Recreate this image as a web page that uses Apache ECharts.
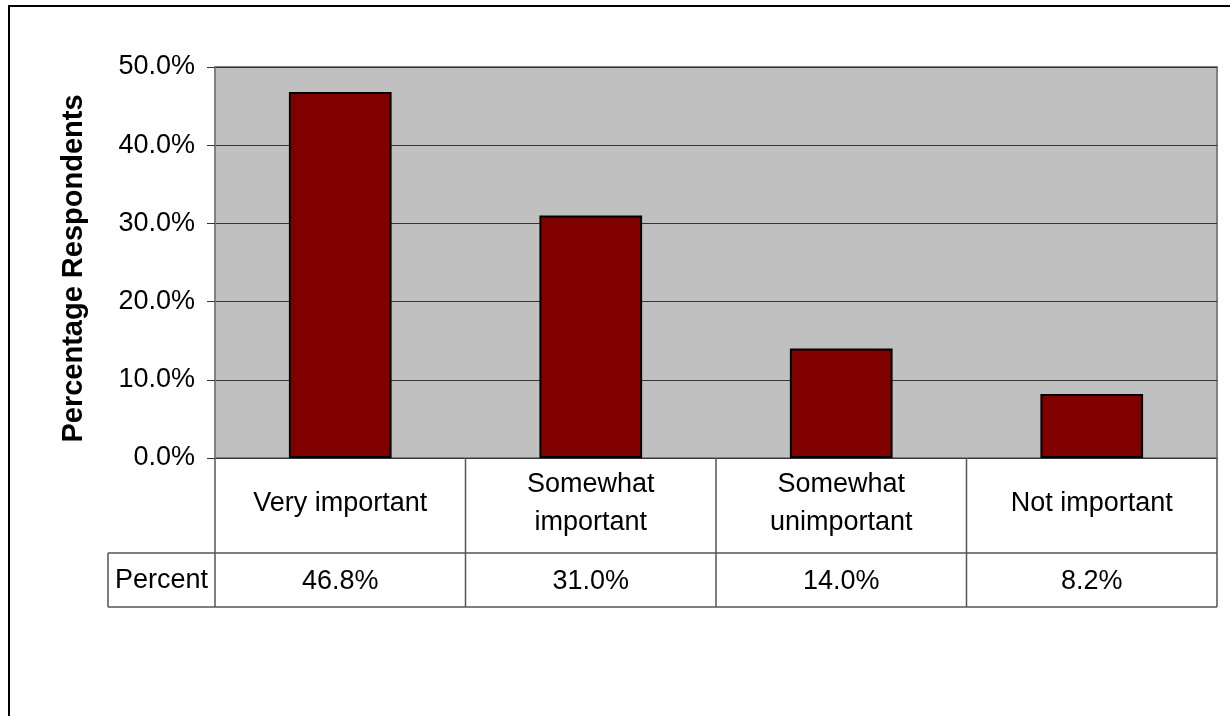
<!DOCTYPE html>
<html>
<head>
<meta charset="utf-8">
<script src="https://cdn.jsdelivr.net/npm/echarts@6/dist/echarts.min.js"></script>
<style>
html,body{margin:0;padding:0;background:#fff;}
#chart{width:1230px;height:716px;}
</style>
</head>
<body>
<div id="chart"></div>
<script>
const categories = ['Very important', 'Somewhat\nimportant', 'Somewhat\nunimportant', 'Not important'];
const percentValues = [46.8, 31.0, 14.0, 8.2];
const yTickMin = 0, yTickMax = 50, yTickStep = 10;
const rowLabel = 'Percent';
const yTitle = 'Percentage Respondents';

const FONT = "'Liberation Sans', Arial, sans-serif";
const fmt = v => Number(v).toFixed(1) + '%';

const chart = echarts.init(document.getElementById('chart'), null, {renderer: 'canvas'});
const option = {
  animation: false,
  backgroundColor: '#fff',
  grid: {
    left: 215, right: 13, top: 67, bottom: 258,
    show: true, backgroundColor: '#c0c0c0', borderColor: '#808080', borderWidth: 2
  },
  xAxis: [{
    type: 'category',
    data: categories,
    axisLine: {show: false},
    axisTick: {show: false},
    splitLine: {show: false},
    axisLabel: {
      interval: 0, fontSize: 27, lineHeight: 38, color: '#000', fontFamily: FONT,
      verticalAlign: 'middle', margin: 46
    }
  }, {
    type: 'category',
    data: percentValues.map(fmt),
    position: 'bottom',
    offset: 95,
    axisLine: {show: false},
    axisTick: {show: false},
    axisLabel: {
      interval: 0, fontSize: 27, color: '#000', fontFamily: FONT,
      verticalAlign: 'middle', margin: 29
    }
  }],
  yAxis: {
    type: 'value',
    min: yTickMin, max: yTickMax, interval: yTickStep,
    name: yTitle, nameLocation: 'middle', nameGap: 127,
    nameTextStyle: {fontSize: 29, fontWeight: 'bold', color: '#000', fontFamily: FONT, padding: [0, 12, 0, 0]},
    axisLine: {show: true, lineStyle: {color: '#808080', width: 2}},
    axisTick: {show: true, length: 8, lineStyle: {color: '#333', width: 1}},
    axisLabel: {formatter: fmt, fontSize: 27, color: '#000', fontFamily: FONT, margin: 20},
    splitLine: {show: true, lineStyle: {color: '#333', width: 1}}
  },
  series: [{
    type: 'bar',
    data: percentValues,
    barWidth: '41%',
    itemStyle: {color: '#800000', borderColor: '#000', borderWidth: 2}
  }]
};
chart.setOption(option);

// table lines computed from the axis scale
const c0 = chart.convertToPixel({xAxisIndex: 0}, 0);
const c1 = chart.convertToPixel({xAxisIndex: 0}, 1);
const band = c1 - c0;
const left = c0 - band / 2;
const n = categories.length;
const right = left + band * n;
const yBase = chart.convertToPixel({yAxisIndex: 0}, 0);
const row1 = yBase + 95;
const row2 = row1 + 54;
const labelLeft = 108;
const lineStyle = {stroke: '#555', lineWidth: 1.5};
const g = [];
g.push({type: 'rect', shape: {x: 9, y: 6, width: 1400, height: 900}, style: {fill: null, stroke: '#000', lineWidth: 2}, z: 100});
g.push({type: 'line', shape: {x1: labelLeft, y1: row1, x2: right, y2: row1}, style: lineStyle});
g.push({type: 'line', shape: {x1: labelLeft, y1: row2, x2: right, y2: row2}, style: lineStyle});
g.push({type: 'line', shape: {x1: labelLeft, y1: row1, x2: labelLeft, y2: row2}, style: lineStyle});
for (let i = 0; i <= n; i++) {
  const x = left + band * i;
  g.push({type: 'line', shape: {x1: x, y1: yBase, x2: x, y2: row2}, style: lineStyle});
}
g.push({type: 'text', x: (labelLeft + left) / 2, y: (row1 + row2) / 2 + 1,
  style: {text: rowLabel, fontSize: 27, fontFamily: FONT, fill: '#000', align: 'center', verticalAlign: 'middle'}});
chart.setOption({graphic: g});
</script>
</body>
</html>
